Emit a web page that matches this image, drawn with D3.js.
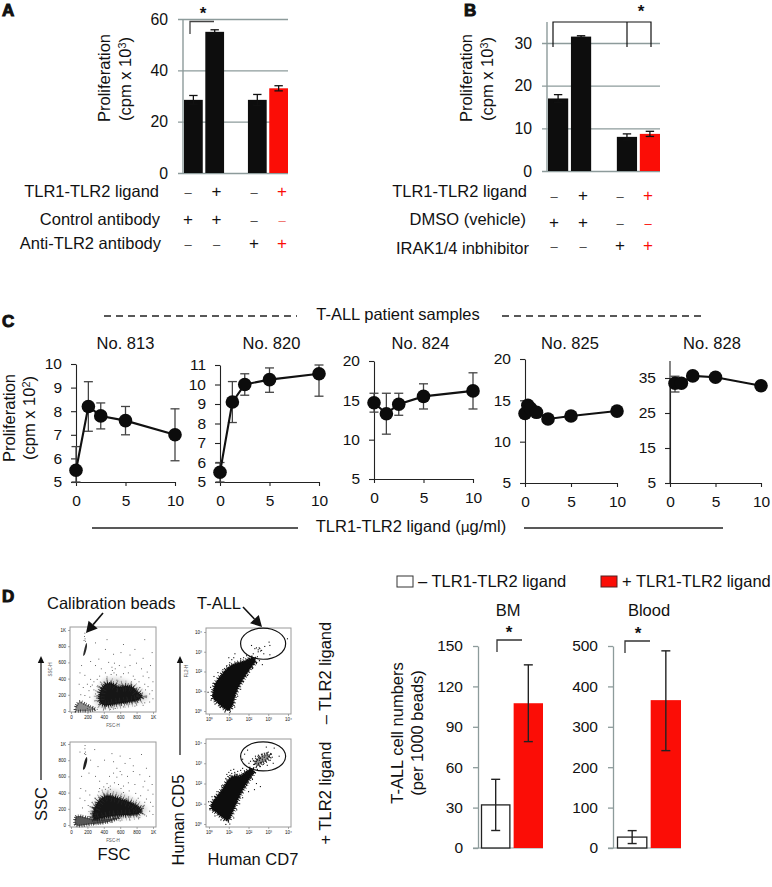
<!DOCTYPE html>
<html><head><meta charset="utf-8">
<script src="https://cdn.jsdelivr.net/npm/d3@7/dist/d3.min.js"></script>
<style>
html,body{margin:0;padding:0;background:#fff}
svg{display:block}
text{font-family:"Liberation Sans",Arial,sans-serif;fill:#111}
</style></head><body><svg id="c" width="772" height="887" viewBox="0 0 772 887"></svg>
<script>
// ---------- data ----------
const slots = ["a","b","gap","c","d"];
const aValues = [28.5,55,28.5,33];
const aHigh = [30.2,55.8,30.6,34];
const aLow = [26.8,54.2,26.4,32];
const bValues = [17,31.5,8,8.7];
const bHigh = [17.9,31.7,8.7,9.3];
const bLow = [16.1,31.3,7.3,8.1];
const aRows = [["TLR1-TLR2 ligand","–","+","–","+"],["Control antibody","+","+","–","–"],["Anti-TLR2 antibody","–","–","+","+"]];
const bRows = [["TLR1-TLR2 ligand","–","+","–","+"],["DMSO (vehicle)","+","+","–","–"],["IRAK1/4 inbhibitor","–","–","+","+"]];

const doses = [0,1.25,2.5,5,10];
const doses825 = [0,0.31,0.62,1.25,2.5,5,10];
const doses828 = [0.55,1.25,2.5,5,10];
const y813 = [5.5,8.2,7.8,7.6,7.0];
const hi813 = [6.5,9.25,8.35,8.2,8.1];
const lo813 = [5,7.15,7.25,7.0,5.9];
const y820 = [5.5,9.1,10.0,10.25,10.55];
const hi820 = [6.0,10.15,10.55,10.85,11.0];
const lo820 = [5.0,8.05,9.45,9.6,9.4];
const y824 = [14.7,13.3,14.5,15.5,16.2];
const hi824 = [15.9,15.9,15.9,17.1,18.5];
const lo824 = [13.5,10.7,13.1,13.9,13.9];
const y825 = [13.4,14.4,14.0,13.55,12.75,13.1,13.7];
const y828 = [33.5,33.5,35.6,35.2,32.8];
const hi828 = [35.5,34.5,36.2,35.9,33.4];
const lo828 = [31.0,32.5,35.0,34.5,32.2];

const fscTicks = [0,200,400,600,800,1000];
const logTicks = [0,1,2,3,4];

const coreFscTop = [[345,165],[374,277],[435,339],[516,331],[577,298],[659,310],[740,298],[809,236],[862,182],[821,140],[699,112],[557,91],[415,70],[362,99]];
const haloFscTop = [[290,130],[330,270],[400,385],[500,410],[640,385],[770,320],[880,235],[950,170],[860,115],[700,75],[500,40],[340,45]];
const lowFscTop = [[55,0],[65,70],[110,115],[170,90],[240,55],[300,25],[250,5],[120,0]];
const beadsFscTop = [[150,680],[165,690],[195,800],[190,840],[175,810],[155,730]];
const coreFscBot = [[268,102],[288,204],[348,306],[428,359],[528,347],[648,306],[768,257],[860,184],[828,143],[668,122],[508,110],[368,82],[288,69]];
const haloFscBot = [[230,90],[270,230],[340,350],[430,430],[540,430],[670,370],[790,300],[930,195],[860,125],[680,85],[500,60],[330,40]];
const lowFscBot = [[56,0],[60,102],[108,112],[228,84],[388,69],[588,94],[468,41],[268,12]];
const beadsFscBot = [[148,682],[165,690],[198,800],[192,840],[175,815],[152,735]];
const dotsFscTop = [[170,960],[165,920],[172,890],[178,860],[160,870],[300,840],[420,760],[520,700],[610,720],[720,690],[880,650],[460,600],[530,590],[500,540],[540,520],[505,500],[525,470],[490,450],[555,445],[590,560],[660,540],[720,560],[800,590],[860,520],[930,480],[970,560],[880,430],[950,410],[1000,360],[760,430],[700,470],[640,460],[420,470],[370,520],[300,560],[240,610],[130,560],[170,440],[110,470],[240,390],[200,330],[260,320],[150,290],[220,250],[280,260],[300,210],[120,200],[170,190],[230,170],[100,330],[940,300],[990,250],[900,330],[960,210],[1000,150],[830,360],[880,70],[780,60],[640,50],[540,30],[420,25],[780,760],[340,640],[640,820],[440,880],[900,880],[990,720],[560,380],[440,420],[350,430],[320,390],[280,360],[240,300],[610,420],[780,390],[840,290],[910,260],[480,20],[320,20],[200,30],[900,100],[960,110]];
const dotsFscBot = [[172,980],[170,940],[176,900],[180,870],[166,880],[110,900],[290,930],[410,800],[500,880],[600,850],[720,820],[860,870],[560,700],[600,660],[520,640],[470,600],[560,590],[620,620],[690,600],[760,660],[840,620],[900,540],[960,600],[990,500],[880,470],[940,430],[1000,380],[780,500],[700,520],[640,480],[580,500],[530,520],[480,480],[440,510],[400,470],[350,540],[300,600],[220,640],[130,600],[120,450],[180,420],[230,370],[170,300],[110,330],[210,240],[260,280],[140,210],[300,330],[340,410],[380,430],[460,460],[610,450],[710,420],[790,390],[850,360],[920,320],[970,280],[1000,230],[880,230],[960,170],[1000,130],[920,110],[840,90],[720,60],[600,50],[500,30],[380,25],[660,760],[760,730],[920,700],[330,720],[240,800],[520,780],[640,400],[480,440],[420,440],[820,330],[900,280],[300,260],[350,450]];

const coreCdTop = [[.22,.98],[.32,1.35],[.6,1.78],[.92,2.14],[1.3,2.38],[1.8,2.52],[2.22,2.68],[2.34,2.56],[2.02,2.08],[1.72,1.62],[1.48,1.2],[1.3,.75],[1.18,.28],[.99,.05],[.78,.14],[.45,.42],[.22,.66]];
const coreCdBot = [[.14,.98],[.36,1.3],[.68,1.72],[1.0,2.2],[1.25,2.36],[1.55,2.36],[1.9,2.58],[2.15,2.72],[2.27,2.62],[1.96,2.1],[1.66,1.6],[1.42,1.12],[1.22,.65],[.95,.18],[.7,.32],[.37,.58],[.14,.75]];
const clusterCdBot = [[2.3,3.05],[2.55,3.3],[2.9,3.45],[3.1,3.4],[3.0,3.2],[2.7,3.02],[2.45,2.85]];
const dotsCdTop = [[2.15,3.32],[2.32,3.16],[2.4,3.2],[2.49,3.1],[2.57,3.16],[2.66,3.07],[2.49,3.0],[2.61,3.04],[2.82,3.27],[3.04,3.49],[3.08,3.32],[2.77,2.9],[3.08,2.85],[2.24,2.9],[3.97,3.66],[2.54,3.2],[1.31,2.9],[1.25,2.7],[1.15,2.6],[1.05,2.45],[.9,2.3],[.25,1.75],[-.05,.95],[.1,.55],[.3,.35],[.55,.2],[.8,-.05],[1.05,-.08],[1.3,.2],[1.45,.75],[1.6,1.1],[1.75,1.5],[1.95,1.8],[2.2,2.15],[2.4,2.4],[2.55,2.55],[2.7,2.35],[2.1,2.2],[1.6,2.65],[1.75,2.7],[1.9,2.8],[2.05,2.75],[1.0,2.7],[.7,2.1],[.45,1.95],[.2,1.4],[.08,1.2],[2.45,2.75],[2.32,2.7],[1.9,2.45]];
const dotsCdBot = [[2.02,3.0],[2.1,3.1],[2.2,3.22],[2.3,2.95],[2.35,3.35],[2.4,3.1],[2.45,3.2],[2.5,3.0],[2.5,3.4],[2.55,3.15],[2.6,2.85],[2.6,3.25],[2.65,3.05],[2.7,3.45],[2.7,3.2],[2.75,2.95],[2.8,3.3],[2.85,3.1],[2.9,3.5],[2.95,3.25],[3.0,3.55],[3.05,3.35],[3.1,3.15],[3.15,3.45],[3.2,3.3],[2.25,2.75],[2.45,2.7],[2.95,2.9],[3.25,3.0],[1.8,3.45],[1.95,3.65],[2.9,3.8],[3.3,3.75],[1.7,3.2],[3.55,3.35],[2.1,2.45],[2.2,2.2],[2.4,2.0],[2.6,1.85],[2.3,1.7],[1.9,1.9],[2.0,1.6],[1.7,1.3],[1.55,1.0],[1.4,.7],[1.25,.3],[1.05,.0],[.85,-.02],[.6,.2],[.3,.4],[.05,.7],[-.02,1.1],[.15,1.35],[.4,1.6],[.65,1.9],[.85,2.25],[.9,2.45],[1.0,2.55],[1.15,2.5],[1.3,2.55],[1.45,2.6],[1.6,2.65],[1.75,2.5],[.95,2.35],[1.1,2.65],[1.25,2.7],[1.4,2.45],[1.55,2.4],[1.05,2.4],[1.7,2.75]];

const bmValues = [32,107.5];
const bmHigh = [51,136];
const bmLow = [13,79];
const bloodValues = [27,366];
const bloodHigh = [43,488];
const bloodLow = [11,241];
const treat = ["minus","plus"];

// ---------- helpers ----------
const svg = d3.select("#c");
const FS = 16.5, TICK = 15.5, GREY = "#8d9b9b", RED = "#fb0d06", DARK = "#0d0d0d";
function label(x,y,s,o={}){
  const t = svg.append("text").attr("x",x).attr("y",y).attr("font-size",o.size||FS)
    .attr("text-anchor",o.anchor||"start").text(s);
  if(o.rot) t.attr("transform",`rotate(${o.rot} ${x} ${y})`);
  if(o.weight) t.attr("font-weight",o.weight);
  if(o.fill) t.style("fill",o.fill);
  return t;
}
function supLabel(x,y,a,sup,b,o={}){
  const t = label(x,y,"",{anchor:"middle",rot:-90,size:o.size||FS});
  t.append("tspan").text(a);
  t.append("tspan").attr("dy",-5).attr("font-size",(o.size||FS)*.66).text(sup);
  t.append("tspan").attr("dy",5).text(b);
}
function panelLetter(x,y,s){
  label(x,y,s,{size:17,weight:"bold"}).style("stroke","#111").style("stroke-width",1);
}
function star(x,y){ label(x,y,"*",{size:17,anchor:"middle",weight:"bold"}); }
function path(pts,o={}){
  svg.append("path").attr("d",d3.line()(pts)).attr("fill","none")
    .attr("stroke",o.stroke||"#222").attr("stroke-width",o.w||1.2)
    .attr("stroke-dasharray",o.dash||null);
}
function styleAxis(g,color,size,w){
  g.selectAll(".domain").attr("stroke",color).attr("stroke-width",w||1.3);
  g.selectAll("line").attr("stroke",color).attr("stroke-width",w||1.3);
  g.selectAll("text").attr("font-size",size||TICK).style("fill","#111");
  g.attr("font-family",null);
}
function errs(x,hi,lo,y,cap,color,w){
  const g = svg.append("g").attr("stroke",color).attr("stroke-width",w).attr("fill","none");
  hi.forEach((h,i)=>{
    const c=x(i);
    g.append("line").attr("x1",c).attr("x2",c).attr("y1",y(h)).attr("y2",y(lo[i]));
    g.append("line").attr("x1",c-cap).attr("x2",c+cap).attr("y1",y(h)).attr("y2",y(h));
    g.append("line").attr("x1",c-cap).attr("x2",c+cap).attr("y1",y(lo[i])).attr("y2",y(lo[i]));
  });
}

// ---------- panels A, B ----------
function barPanel(o){
  const x = d3.scaleBand().domain(slots).range([o.x0,o.x1]).paddingInner(.12).paddingOuter(0);
  const y = d3.scaleLinear().domain([0,o.max]).range([o.y0,o.y1]);
  const cats = slots.filter(s=>s!=="gap");
  const ax = svg.append("g").attr("transform",`translate(${o.x0-1},0)`)
    .call(d3.axisLeft(y).tickValues(o.ticks).tickSize(0).tickPadding(15).tickFormat(d3.format("d")));
  ax.select(".domain").remove();
  ax.selectAll(".tick line").attr("x1",-5).attr("x2",o.x1-o.x0+1);
  styleAxis(ax,GREY,TICK+.3,1.4);
  svg.append("line").attr("x1",o.x0-1).attr("x2",o.x0-1).attr("y1",o.y0).attr("y2",o.axisTop).attr("stroke",GREY).attr("stroke-width",1.4);
  const bw = x.bandwidth();
  svg.selectAll(null).data(o.values).enter().append("rect")
    .attr("x",(d,i)=>x(cats[i])).attr("width",bw)
    .attr("y",d=>y(d)).attr("height",d=>o.y0-y(d))
    .attr("fill",(d,i)=>i===3?RED:DARK);
  errs(i=>x(cats[i])+bw/2,o.high,o.low,y,4.2,"#111",1.3);
  o.rows.forEach((r,ri)=>{
    label(o.labelRight[ri],o.labelY[ri],r[0],{anchor:"end"});
    r.slice(1).forEach((s,i)=>{
      const red = i===3;
      const faded = red && s==="–" && o.fadeRed;
      label(o.symX[i],o.symY[ri],s,{anchor:"middle",size:s==="+"?17:13,fill:faded?"#f0716a":red?RED:(s==="–"?"#444":"#111")});
    });
  });
}
panelLetter(2,15.5,"A");
barPanel({x0:184,x1:288,y0:173,y1:19,axisTop:19,max:60,ticks:[0,20,40,60],values:aValues,high:aHigh,low:aLow,rows:aRows,fadeRed:true,
  labelRight:[159,160,161],labelY:[197,225,249],symX:[188,216.5,254,282],symY:[197,225,249]});
path([[190,34],[190,21.5],[214,21.5]],{stroke:"#444",w:1.3});
star(203,19);
supLabel(110,78,"Proliferation","","",{});
supLabel(131,79,"(cpm x 10","3",")",{});

panelLetter(464,15.5,"B");
barPanel({x0:548,x1:660,y0:171,y1:43,axisTop:22,max:30,ticks:[0,10,20,30],values:bValues,high:bHigh,low:bLow,rows:bRows,
  labelRight:[527,526,529],labelY:[197,225,254],symX:[554,583,620,648],symY:[200.5,227.5,251]});
path([[553,47],[553,22],[651,22],[651,47]],{stroke:"#111",w:1.2});
path([[627,22],[627,47]],{stroke:"#111",w:1.2});
star(641,17);
supLabel(472,78,"Proliferation","","",{});
supLabel(493,79,"(cpm x 10","3",")",{});

// ---------- panel C ----------
panelLetter(2,327,"C");
path([[104,316],[297,316]],{dash:"7 5",w:1.3});
path([[502,316],[702,316]],{dash:"7 5",w:1.3});
label(398,320,"T-ALL patient samples",{anchor:"middle"});
path([[92,528],[298,528]],{w:1.3});
path([[524,528],[723,528]],{w:1.3});
const ax = label(411,532,"TLR1-TLR2 ligand (",{anchor:"middle"});
ax.append("tspan").style("font-family","'DejaVu Sans'").attr("font-size",14).text("µ");
ax.append("tspan").text("g/ml)");
supLabel(15,418,"Proliferation","","",{});
supLabel(35,418,"(cpm x 10","2",")",{});

function linePanel(o){
  const x = d3.scaleLinear().domain([0,10]).range([o.x0,o.x1]);
  const y = d3.scaleLinear().domain([o.min,o.max]).range([o.y0,o.y1]);
  const gy = svg.append("g").attr("transform",`translate(${o.x0},0)`)
    .call(d3.axisLeft(y).tickValues(o.ticks).tickSizeOuter(0).tickSizeInner(5).tickPadding(9).tickFormat(d3.format("d")));
  styleAxis(gy,"#222",TICK,1.1);
  if(o.axisTop) gy.append("line").attr("x1",0).attr("x2",0).attr("y1",o.y0).attr("y2",o.axisTop).attr("stroke","#222").attr("stroke-width",1.1);
  const gx = svg.append("g").attr("transform",`translate(0,${o.y0})`)
    .call(d3.axisBottom(x).tickValues([0,5,10]).tickSizeOuter(0).tickSizeInner(4).tickPadding(9).tickFormat(d3.format("d")));
  styleAxis(gx,"#222",TICK,1.1);
  if(o.hi) errs(i=>x(o.xs[i]),o.hi,o.lo,y,4.5,"#444",1.3);
  const pts = o.xs.map((d,i)=>[d,o.ys[i]]);
  svg.append("path").attr("d",d3.line().x(d=>x(d[0])).y(d=>y(d[1]))(pts)).attr("fill","none").attr("stroke","#111").attr("stroke-width",2.1);
  svg.selectAll(null).data(pts).enter().append("circle").attr("cx",d=>x(d[0])).attr("cy",d=>y(d[1])).attr("r",6.8).attr("fill","#0c0c0c");
  label((o.x0+o.x1)/2+o.titleDx,349,o.title,{anchor:"middle"});
}
linePanel({title:"No. 813",titleDx:0,x0:76,x1:175,y0:482,y1:364,min:5,max:10,ticks:[5,6,7,8,9,10],xs:doses,ys:y813,hi:hi813,lo:lo813});
linePanel({title:"No. 820",titleDx:2,x0:220,x1:319,y0:482,y1:365,min:5,max:11,ticks:[5,6,7,8,9,10,11],xs:doses,ys:y820,hi:hi820,lo:lo820});
linePanel({title:"No. 824",titleDx:-3,x0:374,x1:473,y0:479,y1:361,min:5,max:20,ticks:[5,10,15,20],xs:doses,ys:y824,hi:hi824,lo:lo824});
linePanel({title:"No. 825",titleDx:-1,x0:525,x1:617,y0:483,y1:359,min:5,max:20,ticks:[5,10,15,20],xs:doses825,ys:y825});
linePanel({title:"No. 828",titleDx:-3.5,x0:670,x1:761,y0:483,y1:378,min:5,max:35,ticks:[5,15,25,35],axisTop:361,xs:doses828,ys:y828,hi:hi828,lo:lo828});

// ---------- panel D flow plots ----------
const defs = svg.append("defs");
defs.append("filter").attr("id","soft").attr("x","-30%").attr("y","-30%").attr("width","160%").attr("height","160%").append("feGaussianBlur").attr("stdDeviation",2.2);
defs.append("filter").attr("id","edge").attr("x","-30%").attr("y","-30%").attr("width","160%").attr("height","160%").append("feGaussianBlur").attr("stdDeviation",.35);

function blob(x,y,pts,l){
  const gen = d3.line().x(d=>x(d[0])).y(d=>y(d[1])).curve(d3.curveCatmullRomClosed.alpha(.5));
  svg.append("path").attr("d",gen(pts)).attr("fill",l.fill).attr("opacity",l.op||1)
    .attr("filter",l.filter?`url(#${l.filter})`:null);
  // dashed outlines break the blob's edge up into the grainy fringe of a dense dot cloud
  (l.fringe||[]).forEach(f=>{
    svg.append("path").attr("d",gen(pts)).attr("fill","none").attr("stroke",f[2]||l.fill)
      .attr("stroke-width",f[0]).attr("stroke-dasharray",f[1]).attr("opacity",f[3]||1);
  });
}
function flow(o){
  svg.append("rect").attr("x",o.fx0).attr("y",o.fy0).attr("width",o.fx1-o.fx0).attr("height",o.fy1-o.fy0)
    .attr("fill","#fff").attr("stroke","#9a9a9a").attr("stroke-width",1);
  const fmt = o.log ? (d=>"10"+"⁰¹²³⁴"[d]) : (d=>d===1000?"1K":d);
  const gx = svg.append("g").attr("transform",`translate(0,${o.fy1})`)
    .call(d3.axisBottom(o.x).tickValues(o.ticks).tickSizeOuter(0).tickSize(2).tickPadding(2).tickFormat(fmt));
  gx.select(".domain").remove(); styleAxis(gx,"#777",4.5,.6);
  const gy = svg.append("g").attr("transform",`translate(${o.fx0},0)`)
    .call(d3.axisLeft(o.y).tickValues(o.ticks).tickSizeOuter(0).tickSize(2).tickPadding(2).tickFormat(fmt));
  gy.select(".domain").remove(); styleAxis(gy,"#777",4.5,.6);
  if(o.xName) label((o.fx0+o.fx1)/2,o.fy1+15,o.xName,{anchor:"middle",size:4.5,fill:"#555"});
  if(o.yName) label(o.fx0-18,(o.fy0+o.fy1)/2,o.yName,{anchor:"middle",size:4.5,rot:-90,fill:"#555"});
  (o.layers||[]).forEach(l=>blob(o.x,o.y,l.pts,l));
  svg.selectAll(null).data(o.dots).enter().append("rect")
    .attr("x",d=>o.x(d[0])-.5).attr("y",d=>o.y(d[1])-.5).attr("width",o.log?1.1:.9).attr("height",o.log?1.1:.9).attr("fill",o.log?"#111":"#444");
  if(o.gate) svg.append("ellipse").attr("cx",o.x(o.gate[0])).attr("cy",o.y(o.gate[1]))
    .attr("rx",o.x(o.gate[0]+o.gate[2])-o.x(o.gate[0])).attr("ry",o.y(o.gate[1])-o.y(o.gate[1]+o.gate[3]))
    .attr("fill","none").attr("stroke","#111").attr("stroke-width",1.2);
}
const xFsc = d3.scaleLinear().domain([0,1000]).range([71,153]);
const yFscT = d3.scaleLinear().domain([0,1000]).range([711,630]);
const yFscB = d3.scaleLinear().domain([0,1000]).range([825,744]);
const xCd = d3.scaleLinear().domain([0,4]).range([209,288]);
const yCdT = d3.scaleLinear().domain([0,4]).range([711,632]);
const yCdB = d3.scaleLinear().domain([0,4]).range([824,743]);
const fscFringe = [[11,"0.7 2.9 0.5 3.7","#333",.55],[6,"0.9 1.6 0.6 2.2","#222",.8],[2.5,"1.1 0.8","#141414"]];
const cdFringe = [[5,"0.9 1.7 0.7 2.5","#111"],[2,"1.2 0.7","#0e0e0e"]];
const lowFringe = [[3,"0.8 1.4 0.6 1.9","#222"]];
flow({fx0:70,fx1:156,fy0:627,fy1:712,x:xFsc,y:yFscT,ticks:fscTicks,xName:"FSC-H",yName:"SSC-H",dots:dotsFscTop,
  layers:[{pts:haloFscTop,fill:"#b5b5b5",filter:"soft",op:.55},{pts:lowFscTop,fill:"#777",filter:"edge",op:.85,fringe:lowFringe},{pts:coreFscTop,fill:"#141414",filter:"edge",fringe:fscFringe},{pts:beadsFscTop,fill:"#2b2b2b",filter:"edge"}]});
flow({fx0:70,fx1:156,fy0:742,fy1:827,x:xFsc,y:yFscB,ticks:fscTicks,xName:"FSC-H",dots:dotsFscBot,
  layers:[{pts:haloFscBot,fill:"#b5b5b5",filter:"soft",op:.55},{pts:lowFscBot,fill:"#444",filter:"edge",op:.9,fringe:lowFringe},{pts:coreFscBot,fill:"#141414",filter:"edge",fringe:fscFringe},{pts:beadsFscBot,fill:"#222",filter:"edge"}]});
flow({log:true,fx0:206,fx1:291,fy0:628,fy1:714,x:xCd,y:yCdT,ticks:logTicks,yName:"FL2-H",dots:dotsCdTop,gate:[2.74,3.41,1.14,.79],
  layers:[{pts:coreCdTop,fill:"#0e0e0e",filter:"edge",fringe:cdFringe}]});
flow({log:true,fx0:206,fx1:291,fy0:739,fy1:827,x:xCd,y:yCdB,ticks:logTicks,dots:dotsCdBot,gate:[2.74,3.34,1.14,.72],
  layers:[{pts:clusterCdBot,fill:"#777",filter:"edge",op:.8,fringe:[[4,"0.9 1.8","#222"]]},{pts:coreCdBot,fill:"#0e0e0e",filter:"edge",fringe:cdFringe}]});

function arrow(x1,y1,x2,y2,w,hl,hw){
  const a = Math.atan2(y2-y1,x2-x1), c=Math.cos(a), s=Math.sin(a);
  const bx=x2-hl*c, by=y2-hl*s;
  path([[x1,y1],[bx,by]],{stroke:"#111",w});
  svg.append("path").attr("d",d3.line()([[x2,y2],[bx-hw*s,by+hw*c],[bx+hw*s,by-hw*c]])+"Z").attr("fill","#111");
}
panelLetter(2,602,"D");
label(47,609,"Calibration beads");
label(197,609,"T-ALL");
arrow(103,613,86,633,1.6,11,6);
arrow(243,607,262,627,1.6,11,6);
arrow(41,780,41,656,1.2,7,3.2);
arrow(180,755,180,656,1.2,7,3.2);
label(47,804,"SSC",{anchor:"middle",rot:-90,size:16.5});
label(184,820,"Human CD5",{anchor:"middle",rot:-90});
label(114,860,"FSC",{anchor:"middle",size:16.5});
label(253,865,"Human CD7",{anchor:"middle"});
label(331,673,"– TLR2 ligand",{anchor:"middle",rot:-90});
label(331,793,"+ TLR2 ligand",{anchor:"middle",rot:-90});

// ---------- panel D bars ----------
svg.append("rect").attr("x",397).attr("y",576).attr("width",16).attr("height",11).attr("fill","#fff").attr("stroke","#333").attr("stroke-width",1);
label(418,587,"– TLR1-TLR2 ligand");
svg.append("rect").attr("x",601).attr("y",576).attr("width",16).attr("height",11).attr("fill",RED).attr("stroke","#522").attr("stroke-width",1);
label(622,587,"+ TLR1-TLR2 ligand");

function dPanel(o){
  const x = d3.scaleBand().domain(treat).range([o.x0,o.x1]).paddingInner(.1).paddingOuter(0);
  const y = d3.scaleLinear().domain([0,o.max]).range([848,646]);
  const g = svg.append("g").attr("transform",`translate(${o.axisX},0)`)
    .call(d3.axisLeft(y).tickValues(o.ticks).tickSizeOuter(0).tickSizeInner(5).tickPadding(10).tickFormat(d3.format("d")));
  styleAxis(g,GREY,TICK,1.3);
  svg.append("line").attr("x1",o.axisX-5).attr("x2",o.x1).attr("y1",848).attr("y2",848).attr("stroke",GREY).attr("stroke-width",1.2);
  svg.selectAll(null).data(o.values).enter().append("rect")
    .attr("x",(d,i)=>x(treat[i])+(i?0:.5)).attr("width",(d,i)=>x.bandwidth()-(i?0:1))
    .attr("y",d=>y(d)).attr("height",d=>848-y(d))
    .attr("fill",(d,i)=>i?RED:"#fff").attr("stroke",(d,i)=>i?"none":"#222").attr("stroke-width",1.3);
  errs(i=>x(treat[i])+x.bandwidth()/2,o.high,o.low,y,4.5,"#222",1.4);
  label((o.x0+o.x1)/2+o.titleDx,616,o.title,{anchor:"middle"});
}
dPanel({title:"BM",titleDx:-4,axisX:478,x0:481,x1:543,max:150,ticks:[0,30,60,90,120,150],values:bmValues,high:bmHigh,low:bmLow});
dPanel({title:"Blood",titleDx:0,axisX:613,x0:617,x1:681,max:500,ticks:[0,100,200,300,400,500],values:bloodValues,high:bloodHigh,low:bloodLow});
path([[497,652],[497,640],[522,640]],{stroke:"#333",w:1.3});
path([[625,653],[625,641],[650,641]],{stroke:"#333",w:1.3});
star(509,638); star(638,639);
label(403,733,"T-ALL cell numbers",{anchor:"middle",rot:-90});
label(423,733,"(per 1000 beads)",{anchor:"middle",rot:-90});
</script></body></html>
